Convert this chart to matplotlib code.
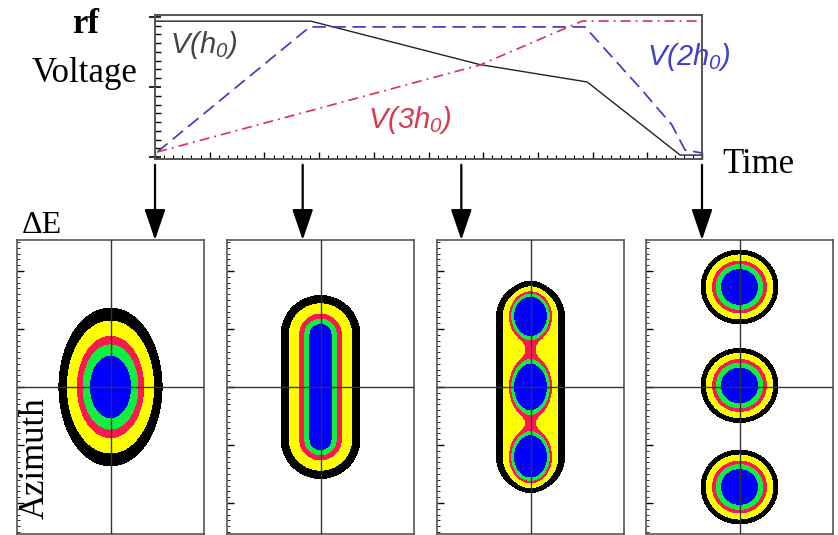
import numpy as np
import matplotlib
matplotlib.use('Agg')
import matplotlib.pyplot as plt
from matplotlib.ticker import MultipleLocator

plt.rcParams['mathtext.fontset'] = 'custom'
plt.rcParams['mathtext.it'] = 'Liberation Sans:italic'
plt.rcParams['mathtext.rm'] = 'Liberation Sans:italic'
serif = 'Liberation Serif'

# rf voltage programme (normalised time, normalised amplitude)
t_h1 = [0.0, 0.285, 0.594, 0.790, 0.960, 1.0]
v_h1 = [0.97, 0.97, 0.66, 0.536, 0.014, 0.014]
t_h2 = [0.004, 0.283, 0.786, 0.890, 0.945, 0.969, 1.0]
v_h2 = [0.036, 0.929, 0.929, 0.479, 0.229, 0.05, 0.029]
t_h3 = [0.004, 0.594, 0.781, 1.0]
v_h3 = [0.036, 0.657, 0.971, 0.971]

# times at which the longitudinal phase space is shown
snap_t = [0.0, 0.27, 0.56, 1.0]

# bunch model per snapshot: (amplitude, centre, half length, sigma_x, sigma_y, power)
snap1 = [(1.0, 0.0, 0.0, 0.293, 0.448, 2)]
snap2 = [(0.6, 0.0, 0.897, 0.121, 0.121, 2),
         (0.4, 0.0, 0.897, 0.250, 0.250, 2)]
snap3 = [(0.10, 0.0, 1.207, 0.400, 0.400, 4),      # halo
         (0.06, 0.0085, 1.2155, 0.100, 0.100, 2),   # separatrix neck
         (0.90, 1.224, 0.0, 0.243, 0.280, 4),       # three sub-bunches
         (0.90, 0.0, 0.0, 0.243, 0.326, 4),
         (0.90, -1.207, 0.0, 0.243, 0.303, 4),
         (0.08, 1.224, 0.0, 0.120, 0.250, 2),
         (0.08, 0.0, 0.0, 0.120, 0.250, 2),
         (0.08, -1.207, 0.0, 0.120, 0.250, 2)]
snap4 = [(1.0, 1.724, 0.0, 0.272, 0.262, 2.5),
         (1.0, 0.026, 0.0, 0.272, 0.262, 2.5),
         (1.0, -1.724, 0.0, 0.272, 0.262, 2.5)]
snaps = [snap1, snap2, snap3, snap4]

# density contour levels and fill colours
levels = [0.01, 0.04, 0.15, 0.27, 0.5, 100.0]
level_colors = ['black', '#ffff00', '#ff1850', '#10ee40', '#0000ff']


def density(X, Y, comps):
    rho = np.zeros_like(X)
    for amp, y0, half, sx, sy, p in comps:
        dy = np.maximum(np.abs(Y - y0) - half, 0.0)
        r2 = (X / sx) ** 2 + (dy / sy) ** 2
        rho += amp * np.exp(-0.5 * r2 ** (p / 2))
    return rho


W, H = 838, 535
fig = plt.figure(figsize=(W / 100, H / 100), dpi=100)

# rf voltage panel
ax = fig.add_axes([155 / W, 1 - 159 / H, 547 / W, 144 / H])
ax.plot(t_h1, v_h1, color='#222222', lw=1.0)
ax.plot(t_h2, v_h2, color='#3535c8', lw=1.2, ls=(0, (8, 4)))
ax.plot(t_h3, v_h3, color='#e0304c', lw=1.2, ls=(0, (6, 3, 1.2, 3)))
ax.set_xlim(0, 1)
ax.set_ylim(-0.014, 1.014)
ax.yaxis.set_major_locator(MultipleLocator(0.5))
ax.yaxis.set_minor_locator(MultipleLocator(0.5 / 8))
ax.xaxis.set_major_locator(MultipleLocator(0.1))
ax.xaxis.set_minor_locator(MultipleLocator(1 / 60))
ax.tick_params(axis='y', which='major', direction='inout', length=9, width=1.2, labelleft=False)
ax.tick_params(axis='y', which='minor', direction='in', length=4, width=1.0)
ax.tick_params(axis='x', which='major', direction='in', length=5, width=1.0, labelbottom=False)
ax.tick_params(axis='x', which='minor', direction='in', length=3, width=0.8)
for s in ax.spines.values():
    s.set_color('#555555')
    s.set_linewidth(1.4)

ax.text(0.027, 0.80, r'$V(h_0)$', color='#444444', fontsize=21, va='center')
ax.text(0.90, 0.714, r'$V(2h_0)$', color='#4040c8', fontsize=21, va='center', clip_on=False)
ax.text(0.389, 0.264, r'$V(3h_0)$', color='#d83a50', fontsize=21, va='center')

fig.text(86 / W, 1 - 33 / H, 'rf', fontsize=25, family=serif, weight='bold', ha='center', va='baseline')
fig.text(85 / W, 1 - 82 / H, 'Voltage', fontsize=25, family=serif, ha='center', va='baseline')
fig.text(722 / W, 1 - 173 / H, 'Time', fontsize=25, family=serif, ha='left', va='baseline')

# arrows from the programme down to each snapshot
for t in snap_t:
    ax.annotate('', xy=(t, -0.5625), xytext=(t, -0.04),
                xycoords=('data', 'axes fraction'), textcoords=('data', 'axes fraction'),
                annotation_clip=False,
                arrowprops=dict(arrowstyle='-|>,head_length=1.0,head_width=0.34',
                                mutation_scale=19, color='black', lw=1.6,
                                shrinkA=0, shrinkB=0))

# phase-space snapshots
lefts = [17, 227, 437, 646]
xg = np.linspace(-1.612, 1.612, 400)
yg = np.linspace(-2.534, 2.534, 620)
X, Y = np.meshgrid(xg, yg)
for left, comps in zip(lefts, snaps):
    bx = fig.add_axes([left / W, 1 / H, 187 / W, 294 / H])
    rho = density(X, Y, comps)
    bx.contourf(X, Y, rho, levels=levels, colors=level_colors, zorder=1)
    bx.axhline(0, color='#333333', lw=1.0, zorder=3)
    bx.axvline(0, color='#333333', lw=1.0, zorder=3)
    bx.set_xlim(-1.612, 1.612)
    bx.set_ylim(-2.534, 2.534)
    bx.set_xticks([])
    bx.yaxis.set_major_locator(MultipleLocator(1.0))
    bx.yaxis.set_minor_locator(MultipleLocator(0.1))
    bx.tick_params(axis='y', which='major', direction='in', length=5, width=1.0, labelleft=False)
    bx.tick_params(axis='y', which='minor', direction='in', length=2.5, width=0.6)
    for s in bx.spines.values():
        s.set_color('#555555')
        s.set_linewidth(1.2)

fig.text(22 / W, 1 - 233 / H, 'ΔE', fontsize=23, family=serif, ha='left', va='baseline')
fig.text(35 / W, 1 - 458 / H, 'Azimuth', fontsize=25, family=serif, rotation=90,
         ha='center', va='center')

fig.savefig('out.png', dpi=100)
